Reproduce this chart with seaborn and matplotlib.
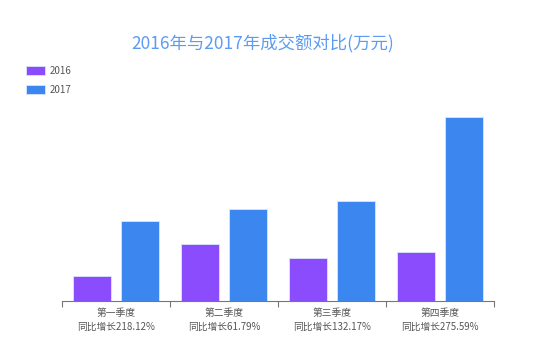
import pandas as pd
import numpy as np
import seaborn as sns
import matplotlib.pyplot as plt

# quarterly turnover (万元)
quarters = ['第一季度', '第二季度', '第三季度', '第四季度']
growth = ['218.12%', '61.79%', '132.17%', '275.59%']
sales_2016 = [25.0, 57.0, 43.0, 49.0]
sales_2017 = [79.5, 92.2, 99.8, 184.0]

df = pd.DataFrame({
    'quarter': quarters * 2,
    'year': ['2016'] * 4 + ['2017'] * 4,
    'value': sales_2016 + sales_2017,
})

sns.set_style('white')
plt.rcParams['font.family'] = ['Noto Sans CJK SC', 'DejaVu Sans']

fig = plt.figure(figsize=(5.43, 3.54), dpi=100)
ax = fig.add_axes([0.114, 0.150, 0.796, 0.565])

sns.barplot(data=df, x='quarter', y='value', hue='year',
            palette={'2016': '#8a4cfd', '2017': '#3c87ef'}, saturation=1,
            width=0.9, gap=0.22, edgecolor='#d9e6fb', linewidth=0.6,
            ax=ax)

ax.set_ylim(0, 200)
ax.set_xlim(-0.5, 3.5)
ax.set_xlabel('')
ax.set_ylabel('')
ax.set_yticks([])
for s in ['top', 'right', 'left']:
    ax.spines[s].set_visible(False)
ax.spines['bottom'].set_color('#777777')
ax.spines['bottom'].set_linewidth(0.8)

ax.set_xticks(range(4))
ax.set_xticklabels([f'{q}\n同比增长{g}' for q, g in zip(quarters, growth)],
                   fontsize=7, color='#555555', linespacing=1.5)
ax.tick_params(axis='x', which='major', length=0, pad=5)
ax.set_xticks(np.arange(-0.5, 4, 1), minor=True)
ax.tick_params(axis='x', which='minor', length=4, width=0.8,
               color='#777777', direction='out', bottom=True)

fig.text(0.483, 0.878, '2016年与2017年成交额对比(万元)', ha='center', va='center',
         fontsize=12.5, color='#5b9cf2')

handles, labels = ax.get_legend_handles_labels()
ax.legend(handles, labels, loc='upper left', bbox_to_anchor=(0.04, 0.825),
          bbox_transform=fig.transFigure, frameon=False, fontsize=7,
          labelcolor='#555555', handlelength=2.0, handleheight=1.1,
          handletextpad=0.45, labelspacing=0.95, borderaxespad=0)

fig.savefig('out.png', dpi=100)
